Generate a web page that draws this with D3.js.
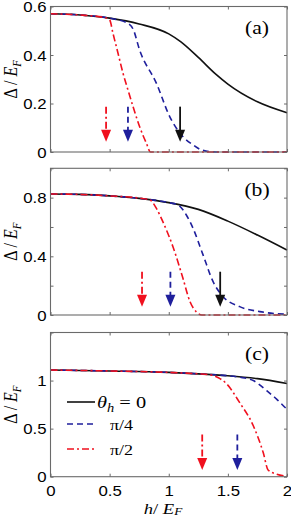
<!DOCTYPE html>
<html>
<head>
<meta charset="utf-8">
<script src="https://cdn.jsdelivr.net/npm/d3@7"></script>
<style>
body { margin: 0; background: #fff; }
svg { display: block; }
.tick text { font-family: "Liberation Sans", Arial, sans-serif; font-size: 14px; fill: #000; }
.serif { font-family: "Liberation Serif", "Times New Roman", serif; fill: #000; }
</style>
</head>
<body>
<svg id="chart" width="291" height="519"></svg>
<script>
// values: h / E_F on x, Delta / E_F on y
var hTicks = [0, 0.5, 1, 1.5, 2];

// panel (a)
var aTicks = [0, 0.2, 0.4, 0.6];
var aBlackH = [0, 0.25, 0.5, 0.75, 1.0, 1.1, 1.25, 1.4, 1.5, 1.75, 2.0];
var aBlackY = [0.570, 0.565, 0.552, 0.528, 0.487, 0.455, 0.39, 0.32, 0.28, 0.207, 0.162];
var aBlueH = [0, 0.25, 0.5, 0.65, 0.7, 0.754, 0.896, 1.008, 1.12, 1.206, 1.28, 1.4, 2];
var aBlueY = [0.570, 0.565, 0.552, 0.532, 0.505, 0.42, 0.283, 0.146, 0.063, 0.029, 0.008, 0, 0];
var aRedH = [0, 0.25, 0.45, 0.5, 0.528, 0.571, 0.613, 0.655, 0.698, 0.754, 0.811, 0.845, 1.0, 2];
var aRedY = [0.570, 0.565, 0.555, 0.545, 0.49, 0.407, 0.325, 0.256, 0.187, 0.104, 0.036, 0, 0, 0];
var aArrowH = [0.47, 0.655, 1.096];   // red, blue, black
var aArrowY = [0.187, 0.042];         // tail, tip

// panel (b)
var bTicks = [0, 0.2, 0.4, 0.6, 0.8, 1.0];
var bLabels = [0, 0.4, 0.8];
var bBlackH = [0, 0.25, 0.5, 0.75, 1.0, 1.25, 1.5, 1.75, 2];
var bBlackY = [0.825, 0.822, 0.812, 0.795, 0.766, 0.72, 0.64, 0.545, 0.443];
var bBlueH = [0, 0.25, 0.5, 0.75, 1.0, 1.08, 1.15, 1.206, 1.29, 1.375, 1.46, 1.6, 1.77, 2];
var bBlueY = [0.825, 0.822, 0.812, 0.795, 0.766, 0.75, 0.68, 0.59, 0.41, 0.227, 0.125, 0.057, 0.023, 0.005];
var bRedH = [0, 0.25, 0.5, 0.75, 0.84, 0.9, 0.95, 1.04, 1.12, 1.18, 1.235, 1.28, 1.5, 2];
var bRedY = [0.825, 0.822, 0.812, 0.797, 0.785, 0.72, 0.636, 0.455, 0.25, 0.09, 0.02, 0, 0, 0];
var bArrowH = [0.774, 1.014, 1.435];
var bArrowY = [0.295, 0.057];

// panel (c)
var cTicks = [0, 0.5, 1, 1.5];
var cLabels = [0, 0.5, 1];
var cBlackH = [0, 0.5, 1.0, 1.25, 1.5, 1.75, 2];
var cBlackY = [1.11, 1.10, 1.085, 1.07, 1.05, 1.02, 0.97];
var cBlueH = [0, 0.5, 1.0, 1.25, 1.5, 1.6, 1.715, 1.828, 1.912, 2];
var cBlueY = [1.11, 1.10, 1.085, 1.07, 1.05, 1.035, 1.0, 0.895, 0.807, 0.70];
var cRedH = [0, 0.5, 1.0, 1.25, 1.35, 1.42, 1.49, 1.6, 1.715, 1.8, 1.84, 1.91, 2];
var cRedY = [1.11, 1.10, 1.085, 1.07, 1.06, 1.03, 0.965, 0.77, 0.53, 0.246, 0.07, 0.028, 0.005];
var cArrowH = [1.283, 1.58];
var cArrowY = [0.44, 0.07];

var legendNames = ['\u03b8', '\u03c0/4', '\u03c0/2'];

var styles = {
  black: { color: '#111', dash: null },
  blue:  { color: '#1f1f9c', dash: '6,4' },
  red:   { color: '#f0101e', dash: '7,3,2,3' }
};

function zipSeries(hs, ys) {
  return hs.map(function(h, i) { return { h: h, v: ys[i] }; });
}

var panels = [
  { tag: '(a)', top: 6.5, bottom: 152, yMax: 0.6, ticks: aTicks, labels: aTicks,
    lines: [['black', zipSeries(aBlackH, aBlackY)], ['blue', zipSeries(aBlueH, aBlueY)], ['red', zipSeries(aRedH, aRedY)]],
    arrows: [['red', aArrowH[0]], ['blue', aArrowH[1]], ['black', aArrowH[2]]], arrowY: aArrowY },
  { tag: '(b)', top: 168.3, bottom: 315, yMax: 1.0, ticks: bTicks, labels: bLabels,
    lines: [['black', zipSeries(bBlackH, bBlackY)], ['blue', zipSeries(bBlueH, bBlueY)], ['red', zipSeries(bRedH, bRedY)]],
    arrows: [['red', bArrowH[0]], ['blue', bArrowH[1]], ['black', bArrowH[2]]], arrowY: bArrowY },
  { tag: '(c)', top: 332.5, bottom: 476.7, yMax: 1.5, ticks: cTicks, labels: cLabels,
    lines: [['black', zipSeries(cBlackH, cBlackY)], ['blue', zipSeries(cBlueH, cBlueY)], ['red', zipSeries(cRedH, cRedY)]],
    arrows: [['red', cArrowH[0]], ['blue', cArrowH[1]]], arrowY: cArrowY, legend: true, xLabels: true }
];

var SX = 1.2;   // the figure's text is stretched sideways
var left = 50.5, right = 287;
var boxColor = '#6a6a6a';

var svg = d3.select('#chart');
var x = d3.scaleLinear().domain([0, 2]).range([left, right]);

function fmt(d) { return String(d); }

panels.forEach(function(p) {
  var y = d3.scaleLinear().domain([0, p.yMax]).range([p.bottom, p.top]);
  var g = svg.append('g');

  // curves
  p.lines.forEach(function(l) {
    var st = styles[l[0]];
    var line = d3.line()
      .x(function(d) { return x(d.h); })
      .y(function(d) { return y(d.v); })
      .curve(d3.curveMonotoneX);
    g.append('path')
      .datum(l[1])
      .attr('d', line)
      .attr('fill', 'none')
      .attr('stroke', st.color)
      .attr('stroke-width', 1.6)
      .attr('stroke-dasharray', st.dash);
  });

  // arrows
  p.arrows.forEach(function(a) {
    var st = styles[a[0]];
    var ax = x(a[1]), y0 = y(p.arrowY[0]), y1 = y(p.arrowY[1]);
    g.append('line')
      .attr('x1', ax).attr('x2', ax)
      .attr('y1', y0).attr('y2', y1 - 10)
      .attr('stroke', st.color)
      .attr('stroke-width', 1.8)
      .attr('stroke-dasharray', st.dash);
    g.append('path')
      .attr('d', 'M' + (ax - 5) + ',' + (y1 - 12) + 'L' + (ax + 5) + ',' + (y1 - 12) + 'L' + ax + ',' + y1 + 'Z')
      .attr('fill', st.color);
  });

  // box
  g.append('rect')
    .attr('x', left).attr('y', p.top)
    .attr('width', right - left).attr('height', p.bottom - p.top)
    .attr('fill', 'none').attr('stroke', boxColor).attr('stroke-width', 1.1);

  // y axes (left labelled, right mirrored)
  var yl = g.append('g').attr('transform', 'translate(' + left + ',0)')
    .call(d3.axisLeft(y).tickValues(p.ticks).tickSize(-3).tickPadding(4)
      .tickFormat(function(d) { return p.labels.indexOf(d) >= 0 ? fmt(d) : ''; }));
  yl.selectAll('text').attr('x', -4 / SX).attr('dy', '0.36em')
    .attr('transform', 'scale(' + SX + ',1)');
  g.append('g').attr('transform', 'translate(' + right + ',0)')
    .call(d3.axisRight(y).tickValues(p.ticks).tickSize(-3).tickFormat(''));

  // x axes
  var xb = g.append('g').attr('transform', 'translate(0,' + p.bottom + ')')
    .call(d3.axisBottom(x).tickValues(hTicks).tickSize(-3).tickPadding(14)
      .tickFormat(p.xLabels ? fmt : function() { return ''; }));
  xb.selectAll('.tick text')
    .attr('transform', 'scale(' + SX + ',1)')
    .attr('dy', '0.35em');
  g.append('g').attr('transform', 'translate(0,' + p.top + ')')
    .call(d3.axisTop(x).tickValues(hTicks).tickSize(-3).tickFormat(''));

  g.selectAll('.domain').remove();
  g.selectAll('.tick line').attr('stroke', boxColor);

  // panel tag
  g.append('text').attr('class', 'serif')
    .attr('transform', 'translate(257,' + (p.top + 27.5) + ') scale(' + SX + ',1)')
    .attr('text-anchor', 'middle')
    .attr('font-size', 18)
    .text(p.tag);

  // y title
  var yt = g.append('text').attr('class', 'serif')
    .attr('transform', 'translate(17,' + ((p.top + p.bottom) / 2) + ') scale(' + SX + ',1) rotate(-90)')
    .attr('text-anchor', 'middle')
    .attr('font-size', 16);
  yt.append('tspan').text('\u0394 / ');
  yt.append('tspan').attr('font-style', 'italic').text('E');
  yt.append('tspan').attr('font-style', 'italic').attr('font-size', 11).attr('dy', 3).text('F');

  // legend
  if (p.legend) {
    var keys = ['black', 'blue', 'red'];
    var ly = [402, 424, 449];
    keys.forEach(function(k, i) {
      var st = styles[k];
      g.append('line')
        .attr('x1', 67).attr('x2', 95)
        .attr('y1', ly[i]).attr('y2', ly[i])
        .attr('stroke', st.color).attr('stroke-width', 1.6)
        .attr('stroke-dasharray', st.dash);
    });
    var t0 = g.append('text').attr('class', 'serif')
      .attr('transform', 'translate(97,' + (ly[0] + 6) + ') scale(' + SX + ',1)')
      .attr('font-size', 17);
    t0.append('tspan').attr('font-style', 'italic').text(legendNames[0]);
    t0.append('tspan').attr('font-style', 'italic').attr('font-size', 12).attr('dy', 4).text('h');
    t0.append('tspan').attr('dy', -4).text(' = 0');
    [1, 2].forEach(function(i) {
      g.append('text').attr('class', 'serif')
        .attr('transform', 'translate(110,' + (ly[i] + 5.5) + ') scale(' + SX + ',1)')
        .attr('font-size', 15)
        .text(legendNames[i]);
    });
  }
});

// x title
var xt = svg.append('text').attr('class', 'serif')
  .attr('transform', 'translate(163,513.5) scale(' + SX + ',1)')
  .attr('text-anchor', 'middle')
  .attr('font-size', 15.5);
xt.append('tspan').attr('font-style', 'italic').text('h');
xt.append('tspan').text('/ ');
xt.append('tspan').attr('font-style', 'italic').text('E');
xt.append('tspan').attr('font-style', 'italic').attr('font-size', 11).attr('dy', 1.5).text('F');
</script>
</body>
</html>
